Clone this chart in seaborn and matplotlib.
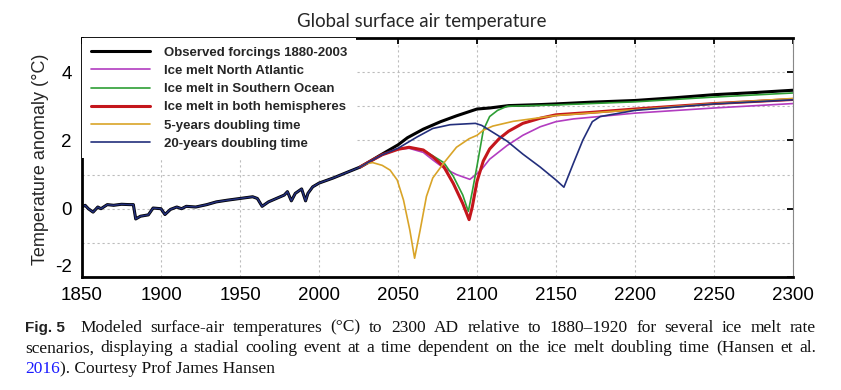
import numpy as np
import pandas as pd
import matplotlib
matplotlib.use("Agg")
import matplotlib.pyplot as plt
import matplotlib.transforms as mtransforms
import seaborn as sns

# shared historical run (all scenarios lie on top of each other here)
hist_year = [1850, 1852, 1854, 1857, 1860, 1862, 1866, 1870, 1875, 1880, 1882.5, 1884,
             1887, 1892, 1895, 1900, 1902.5, 1906, 1910, 1913, 1916, 1922, 1929, 1935,
             1942, 1950, 1958, 1961, 1964, 1968, 1973, 1978, 1980, 1982.5, 1985, 1989,
             1991.5, 1993, 1996, 2000, 2009, 2018, 2026]
hist_temp = [0.05, 0.10, 0.00, -0.10, 0.05, 0.00, 0.12, 0.10, 0.13, 0.12, 0.12, -0.30,
             -0.22, -0.18, 0.02, 0.00, -0.17, -0.02, 0.05, 0.00, 0.07, 0.05, 0.12, 0.20,
             0.25, 0.30, 0.35, 0.30, 0.07, 0.20, 0.30, 0.40, 0.50, 0.23, 0.45, 0.58,
             0.23, 0.45, 0.64, 0.75, 0.90, 1.07, 1.22]

# scenario continuations
obs_year = [2032, 2040, 2050, 2056, 2066, 2077, 2087, 2100, 2108, 2120, 2140, 2150,
            2172, 2200, 2225, 2250, 2275, 2300]
obs_temp = [1.38, 1.60, 1.87, 2.08, 2.33, 2.55, 2.72, 2.92, 2.95, 3.02, 3.05, 3.07,
            3.12, 3.17, 3.25, 3.34, 3.40, 3.47]

na_year = [2032, 2040, 2050, 2057, 2066, 2072, 2079, 2087, 2095.5, 2102, 2108, 2119,
           2129, 2140, 2150, 2161, 2182, 2200, 2250, 2300]
na_temp = [1.38, 1.58, 1.74, 1.77, 1.65, 1.43, 1.19, 1.00, 0.86, 1.10, 1.45, 1.85,
           2.15, 2.40, 2.55, 2.63, 2.72, 2.80, 2.95, 3.08]

so_year = [2032, 2040, 2050, 2057, 2066, 2072, 2079, 2085, 2091, 2094.5, 2097, 2100,
           2104, 2108, 2113, 2119, 2150, 2200, 2250, 2300]
so_temp = [1.38, 1.58, 1.74, 1.80, 1.72, 1.55, 1.35, 0.95, 0.40, -0.08, 0.50, 1.25,
           2.30, 2.70, 2.88, 3.00, 3.04, 3.13, 3.27, 3.39]

both_year = [2032, 2040, 2050, 2057, 2066, 2072, 2079, 2085, 2091, 2095, 2097, 2100,
             2104, 2108, 2114, 2120, 2129, 2140, 2150, 2172, 2200, 2250, 2300]
both_temp = [1.38, 1.58, 1.74, 1.80, 1.72, 1.52, 1.23, 0.74, 0.15, -0.32, 0.05, 0.80,
             1.40, 1.75, 2.05, 2.27, 2.50, 2.65, 2.75, 2.82, 2.92, 3.08, 3.20]

y5_year = [2030, 2034, 2040, 2045, 2049.5, 2053.5, 2057.5, 2060.5, 2064, 2068, 2072,
           2079, 2087, 2095, 2100, 2104, 2110, 2123, 2150, 2200, 2250, 2300]
y5_temp = [1.32, 1.35, 1.27, 1.13, 0.84, 0.25, -0.63, -1.45, -0.63, 0.36, 0.90,
           1.34, 1.80, 2.05, 2.15, 2.30, 2.42, 2.56, 2.73, 2.90, 3.08, 3.23]

y20_year = [2032, 2040, 2050, 2062, 2072, 2083, 2099, 2103, 2119, 2129, 2140, 2150,
            2155, 2161, 2167, 2173, 2178, 2200, 2250, 2300]
y20_temp = [1.38, 1.58, 1.77, 2.10, 2.35, 2.46, 2.50, 2.44, 1.98, 1.60, 1.22, 0.84,
            0.63, 1.33, 2.01, 2.55, 2.70, 2.88, 3.07, 3.19]

labels = ["Observed forcings 1880-2003", "Ice melt North Atlantic",
          "Ice melt in Southern Ocean", "Ice melt in both hemispheres",
          "5-years doubling time", "20-years doubling time"]
colors = ["#000000", "#b23cc0", "#2e9e35", "#c4161c", "#d9a428", "#232f7c"]
widths = [2.2, 1.2, 1.2, 2.2, 1.2, 1.2]
scen_years = [obs_year, na_year, so_year, both_year, y5_year, y20_year]
scen_temps = [obs_temp, na_temp, so_temp, both_temp, y5_temp, y20_temp]

x_ticks = list(range(1850, 2301, 50))
y_ticks = [-2, 0, 2, 4]

sns.set_theme(style="white")
plt.rcParams['font.family'] = ['Liberation Sans', 'DejaVu Sans']
plt.rcParams['axes.unicode_minus'] = False

W, H = 841, 390
fig = plt.figure(figsize=(W / 100, H / 100), dpi=100)
ax = fig.add_axes([82 / W, 1 - 277 / H, (793 - 82) / W, (277 - 38) / H])

# the observed run carries the whole history, the others only their own future
for i, (lab, yrs, tmp, col, lw) in enumerate(zip(labels, scen_years, scen_temps, colors, widths)):
    if i == 0:
        df = pd.DataFrame({"year": hist_year + yrs, "temp": hist_temp + tmp})
    else:
        df = pd.DataFrame({"year": hist_year[-1:] + yrs, "temp": hist_temp[-1:] + tmp})
    sns.lineplot(data=df, x="year", y="temp", ax=ax, color=col, lw=lw,
                 label=lab, sort=False, estimator=None)

# navy core of the overlapping scenario lines over the black history
sns.lineplot(x=hist_year, y=hist_temp, ax=ax, color=colors[5], lw=1.1,
             sort=False, estimator=None)

ax.set_xlim(1850, 2300)
ax.set_ylim(-2, 5)
ax.set_xticks(x_ticks)
ax.set_yticks(y_ticks)
ax.set_yticks([-1, 1, 3], minor=True)
ax.set_xlabel("")
ax.set_ylabel("")
ax.grid(True, which="both", color="#bcbcbc", linestyle=(0, (2, 2.5)), lw=0.8)
ax.set_axisbelow(True)

ax.tick_params(which="major", direction="in", length=4, width=1.3, top=True,
               right=True, labelsize=13.5, colors="black", pad=7.5)
ax.tick_params(which="minor", length=0)
for s in ["left", "bottom", "top"]:
    ax.spines[s].set_linewidth(2)
    ax.spines[s].set_color("black")
ax.spines["right"].set_linewidth(0.8)
ax.spines["right"].set_color("#888888")

# bottom y label sits a little higher in the original
lbl = ax.yaxis.get_major_ticks()[0].label1
lbl.set_transform(lbl.get_transform() + mtransforms.ScaledTranslation(0, 0.12, fig.dpi_scale_trans))

leg = ax.legend(loc="upper left", prop={"weight": "bold", "size": 9.5}, frameon=True,
                facecolor="white", edgecolor="none", framealpha=1, fancybox=False,
                borderaxespad=0, borderpad=0.65, handlelength=4.5,
                handletextpad=1.1, labelspacing=0.45)

fig.text(41 / W, 1 - 159 / H, "Temperature anomaly (\u00b0C)", rotation=90,
         ha="center", va="center", fontsize=13)
fig.text(422 / W, 1 - 27.3 / H, "Global surface air temperature", ha="center",
         va="baseline", family="Lato", fontsize=13.4)

# caption, justified like the journal text
renderer = fig.canvas.get_renderer()
cap_kw = dict(family="Liberation Serif", fontsize=12.5, color="#111111")


def word_width(s, **kw):
    t = fig.text(0, 0, s, **kw)
    w = t.get_window_extent(renderer).width
    t.remove()
    return w


def justify(words, x0, x1, y, **kw):
    ws = [word_width(w, **kw) for w in words]
    gap = (x1 - x0 - sum(ws)) / (len(words) - 1)
    x = x0
    for w, wd in zip(words, ws):
        fig.text(x / W, y, w, ha="left", va="baseline", **kw)
        x += wd + gap


line1 = "Modeled surface-air temperatures (\u00b0C) to 2300 AD relative to 1880\u20131920 for several ice melt rate"
line2 = "scenarios, displaying a stadial cooling event at a time dependent on the ice melt doubling time (Hansen et al."

fig.text(25 / W, 1 - 331.7 / H, "Fig. 5", ha="left", va="baseline",
         family="Liberation Sans", fontweight="bold", fontsize=11, color="#222222")
justify(line1.split(), 80, 816, 1 - 331.7 / H, **cap_kw)
justify(line2.split(), 25, 816, 1 - 352.2 / H, **cap_kw)

y3 = 1 - 372.7 / H
fig.text(25 / W, y3, "2016", ha="left", va="baseline",
         **{**cap_kw, "color": "#1a1aff"})
x3 = 25 + word_width("2016", **cap_kw)
fig.text(x3 / W, y3, "). Courtesy Prof James Hansen", ha="left", va="baseline", **cap_kw)

fig.savefig("out.png", dpi=100)
